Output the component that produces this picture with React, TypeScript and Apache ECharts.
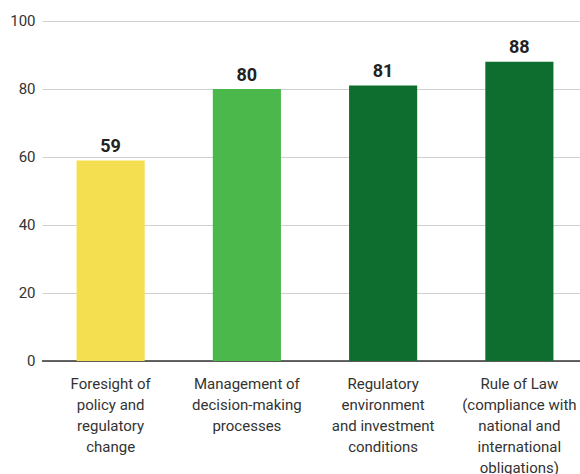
import React, { useEffect, useRef } from "react";
import * as echarts from "echarts";

const categories = [
  "Foresight of\npolicy and\nregulatory\nchange",
  "Management of\ndecision-making\nprocesses",
  "Regulatory\nenvironment\nand investment\nconditions",
  "Rule of Law\n(compliance with\nnational and\ninternational\nobligations)",
];
const values = [59, 80, 81, 88];
const barColors = ["#F3DF4F", "#4AB84A", "#0E6E30", "#0E6E30"];
const yTicks = [0, 20, 40, 60, 80, 100];

export default function App() {
  const ref = useRef<HTMLDivElement>(null);
  useEffect(() => {
    const chart = echarts.init(ref.current!, null, { renderer: "svg" });
    chart.setOption({
      animation: false,
      grid: {
        left: 42.5,
        right: -7.5,
        top: 21,
        bottom: 113,
        containLabel: false,
        outerBoundsMode: "none",
      },
      xAxis: {
        type: "category",
        data: categories,
        axisLine: { lineStyle: { color: "#333", width: 1.5 } },
        axisTick: { show: false },
        axisLabel: {
          interval: 0,
          color: "#333",
          fontFamily: "Roboto",
          fontSize: 15,
          lineHeight: 21,
          margin: 12,
        },
      },
      yAxis: {
        type: "value",
        min: yTicks[0],
        max: yTicks[yTicks.length - 1],
        interval: 20,
        axisLine: { show: false },
        axisTick: { show: false },
        splitLine: { lineStyle: { color: "#d0d0d0", width: 1 } },
        axisLabel: { color: "#333", fontFamily: "Roboto", fontSize: 15, margin: 7 },
      },
      series: [
        {
          type: "bar",
          barWidth: "50%",
          data: values.map((v, i) => ({ value: v, itemStyle: { color: barColors[i] } })),
          label: {
            show: true,
            position: "top",
            distance: 6,
            color: "#222",
            fontFamily: "Roboto",
            fontWeight: "bold",
            fontSize: 18,
          },
        },
      ],
    });
    return () => chart.dispose();
  }, []);
  return <div ref={ref} style={{ width: 580, height: 474, position: "absolute", left: 0, top: 0 }} />;
}
